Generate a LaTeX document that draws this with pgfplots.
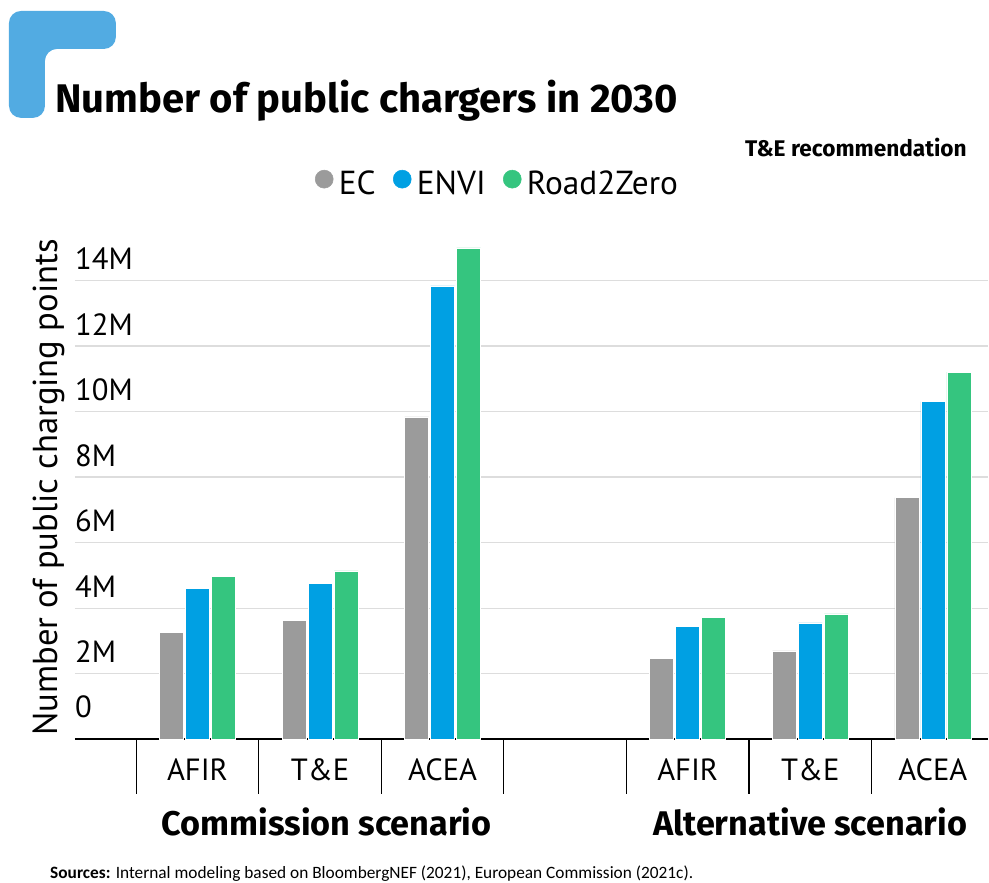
\documentclass[border=0pt]{standalone}
\usepackage{pgfplots}
\pgfplotsset{compat=1.18}
\usepackage{fontspec}
\setmainfont{PT Sans}
\newfontfamily\headfont{Fira Sans}
\newfontfamily\srcfont{Carlito}
\definecolor{ecgray}{HTML}{9B9B9B}
\definecolor{envblue}{HTML}{00A0E3}
\definecolor{r2zgreen}{HTML}{35C57F}
\definecolor{logoblue}{HTML}{52ABE2}
\definecolor{gridgray}{HTML}{DDDDDD}

\begin{document}
\begin{tikzpicture}
% page frame and header, in pixels of the 989x883 reference (y downwards)
\begin{scope}[x=0.75pt,y=-0.75pt]
\path[use as bounding box] (0,0) rectangle (989,883);
\fill[logoblue, rounded corners=9pt] (9,11) -- (116,11) -- (116,49) -- (45,49) -- (45,118) -- (9,118) -- cycle;
\node[anchor=base west, inner sep=0pt, font=\headfont\bfseries\fontsize{30}{34}\selectfont] at (55,113) {Number of public chargers in 2030};
\node[anchor=base east, inner sep=0pt, font=\headfont\bfseries\fontsize{17}{20}\selectfont] at (968,157) {T\&E recommendation};
\end{scope}

\begin{axis}[
    at={(56.25pt,-555pt)}, anchor=south west,
    scale only axis, width=685.5pt, height=373.8pt,
    xmin=-1, xmax=6.45, ymin=0, ymax=15.2,
    axis x line=bottom, axis y line=left,
    axis line style={-},
    x axis line style={black, line width=1.5pt},
    y axis line style={draw=none},
    ymajorgrids, grid style={gridgray, line width=1.1pt},
    ytick={0,2,...,14},
    yticklabels={\raisebox{8.25pt}{0},2M,4M,6M,8M,10M,12M,14M},
    xtick={0,1,2,4,5,6},
    xticklabels={AFIR,T\&E,ACEA,AFIR,T\&E,ACEA},
    minor xtick={-0.5,0.5,...,6.5},
    major tick length=0pt, minor tick length=41pt,
    tick align=outside,
    minor tick style={black, line width=0.8pt},
    ticklabel style={font=\fontsize{23}{27}\selectfont},
    yticklabel style={anchor=base west, inner sep=0pt, yshift=8.25pt},
    xticklabel style={anchor=base, inner sep=0pt, yshift=-30.75pt},
    ylabel={Number of public charging points},
    ylabel style={font=\fontsize{26}{30}\selectfont, at={(axis description cs:-0.0284,0.5056)}, anchor=center},
    legend style={at={(0.2626,1.1156)}, anchor=west, draw=none, fill=none,
        inner sep=0pt, legend columns=-1, font=\fontsize{25}{29}\selectfont,
        /tikz/every odd column/.style={column sep=2pt},
        /tikz/every even column/.style={column sep=11pt}},
]
\addlegendimage{legend image code/.code={\fill[ecgray] (6.75pt,0.35em) circle (6.75pt);}}
\addlegendentry{EC}
\addlegendimage{legend image code/.code={\fill[envblue] (6.75pt,0.35em) circle (6.75pt);}}
\addlegendentry{ENVI}
\addlegendimage{legend image code/.code={\fill[r2zgreen] (6.75pt,0.35em) circle (6.75pt);}}
\addlegendentry{Road2Zero}

% x: 0-2 Commission scenario, 4-6 Alternative scenario; values in millions
\addplot[ybar, bar width=0.196, bar shift=-0.212, fill=ecgray, draw=white, line width=0.4pt]
    coordinates {(0,3.27) (1,3.64) (2,9.84) (4,2.46) (5,2.70) (6,7.38)};
\addplot[ybar, bar width=0.196, bar shift=0, fill=envblue, draw=white, line width=0.4pt]
    coordinates {(0,4.61) (1,4.76) (2,13.84) (4,3.44) (5,3.55) (6,10.31)};
\addplot[ybar, bar width=0.196, bar shift=0.212, fill=r2zgreen, draw=white, line width=0.4pt]
    coordinates {(0,4.98) (1,5.14) (2,15.0) (4,3.72) (5,3.83) (6,11.21)};
\end{axis}

\begin{scope}[x=0.75pt,y=-0.75pt]
\node[anchor=base, inner sep=0pt, font=\headfont\bfseries\fontsize{25.7}{30}\selectfont] at (327,836) {Commission scenario};
\node[anchor=base, inner sep=0pt, font=\headfont\bfseries\fontsize{25.7}{30}\selectfont] at (811,836) {Alternative scenario};
\node[anchor=base west, inner sep=0pt, font=\srcfont\fontsize{13}{15}\selectfont] at (50,879)
    {\textbf{Sources:} Internal modeling based on BloombergNEF (2021), European Commission (2021c).};
\end{scope}
\end{tikzpicture}
\end{document}
